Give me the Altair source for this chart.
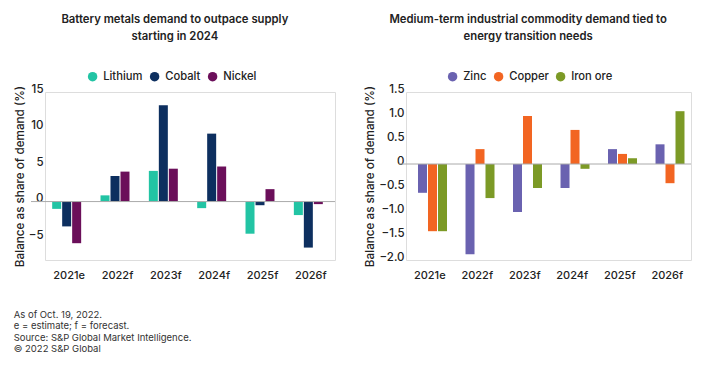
import altair as alt
import pandas as pd

years = ["2021e", "2022f", "2023f", "2024f", "2025f", "2026f"]

battery_metals = ["Lithium", "Cobalt", "Nickel"]
lithium = [-1.0, 0.85, 4.2, -0.9, -4.4, -1.85]
cobalt = [-3.4, 3.5, 13.2, 9.3, -0.5, -6.3]
nickel = [-5.7, 4.1, 4.5, 4.8, 1.7, -0.35]
battery_colors = ["#22c4a4", "#0d2f5f", "#6b0f5a"]

industrial_metals = ["Zinc", "Copper", "Iron ore"]
zinc = [-0.6, -1.88, -1.0, -0.5, 0.31, 0.41]
copper = [-1.4, 0.31, 1.0, 0.71, 0.21, -0.4]
iron_ore = [-1.4, -0.71, -0.5, -0.1, 0.12, 1.1]
industrial_colors = ["#6a62b0", "#f26522", "#7c9a26"]

left_title = ["Battery metals demand to outpace supply", "starting in 2024"]
right_title = ["Medium-term industrial commodity demand tied to", "energy transition needs"]
y_title = "Balance as share of demand (%)"
footnote = ["As of Oct. 19, 2022.", "e = estimate; f = forecast.",
            "Source: S&P Global Market Intelligence.", "\u00a9 2022 S&P Global"]

FONT = "Inter"


def long_df(names, series):
    rows = []
    for name, vals in zip(names, series):
        for yr, v in zip(years, vals):
            rows.append({"year": yr, "metal": name, "value": v})
    return pd.DataFrame(rows)


def panel(df, names, colors, domain, tick_count, label_expr, title, width, legend_x, rule_x):
    base = alt.Chart(df)
    bars = base.mark_bar(width=9).encode(
        x=alt.X("year:N", sort=years, title=None,
                scale=alt.Scale(paddingInner=0.38, paddingOuter=0.19),
                axis=alt.Axis(labelAngle=0, domain=False, ticks=False,
                              labelFontSize=11, labelColor="#222",
                              labelPadding=9, labelFont=FONT, labelFontWeight=500)),
        xOffset=alt.XOffset("metal:N", sort=names,
                            scale=alt.Scale(paddingInner=0, paddingOuter=0)),
        y=alt.Y("value:Q", title=y_title,
                scale=alt.Scale(domain=domain, nice=False, zero=False),
                axis=alt.Axis(tickCount=tick_count, labelExpr=label_expr, grid=False,
                              domain=False, ticks=False, labelBaseline="alphabetic",
                              labelOverlap=False,
                              labelFontSize=11.5, labelColor="#222", labelPadding=2,
                              labelFont=FONT, labelFontWeight=500,
                              titleFontSize=11.7, titleFont=FONT, titleFontWeight=500,
                              titleColor="#222", titlePadding=3)),
        color=alt.Color("metal:N", sort=names,
                        scale=alt.Scale(domain=names, range=colors),
                        legend=alt.Legend(title=None, orient="none", direction="horizontal",
                                          legendX=legend_x, legendY=-21,
                                          symbolType="circle", symbolSize=90,
                                          labelFontSize=11.2, labelFont=FONT,
                                          labelFontWeight=500, labelColor="#222",
                                          labelOffset=5, columnPadding=6)),
    )
    zero = alt.Chart(pd.DataFrame({"v": [0]})).mark_rule(color="#aaa", strokeWidth=1).encode(
        y="v:Q", x=alt.value(rule_x), x2=alt.value(width))
    return alt.layer(bars, zero).properties(
        width=width, height=168,
        title=alt.TitleParams(title, fontSize=11.3, font=FONT, fontWeight=600,
                              color="#222", anchor="middle", frame="bounds",
                              offset=29, lineHeight=17))


left = panel(long_df(battery_metals, [lithium, cobalt, nickel]), battery_metals,
             battery_colors, [-8, 15], 5, "format(datum.value, 'd')",
             left_title, 290, 42, -14)
right = panel(long_df(industrial_metals, [zinc, copper, iron_ore]), industrial_metals,
              industrial_colors, [-2, 1.5], 8,
              "datum.value == 0 ? '0' : format(datum.value, '.1f')",
              right_title, 285, 41, -7)

chart = alt.hconcat(left, right, spacing=28).resolve_scale(
    color="independent", y="independent").properties(
    title=alt.TitleParams(footnote, orient="bottom", anchor="start", fontSize=9.5,
                          font=FONT, fontWeight="normal", color="#333", offset=29,
                          lineHeight=11.5, frame="bounds")
).configure_view(stroke=None).configure_axis(labelOverlap=False).configure(background="white")

chart.save("out.html", embed_options={"renderer": "svg", "actions": False})
